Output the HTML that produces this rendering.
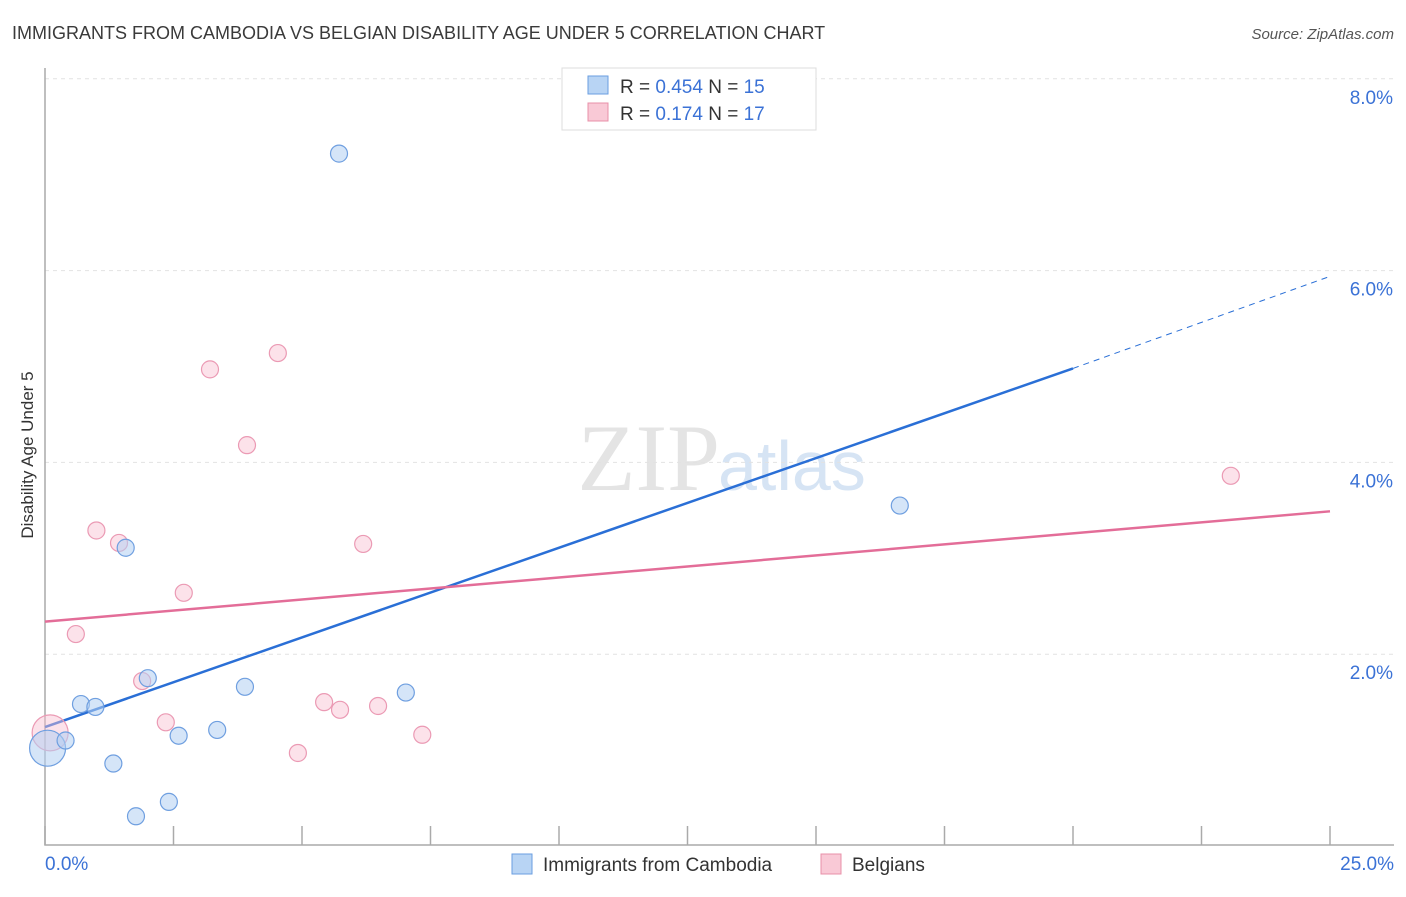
<!DOCTYPE html>
<html><head><meta charset="utf-8"><style>
body{margin:0;background:#fff;font-family:"Liberation Sans",sans-serif}
</style></head><body>
<svg width="1406" height="892" xmlns="http://www.w3.org/2000/svg">
<text x="12" y="39" font-size="18" fill="#3a3a3a">IMMIGRANTS FROM CAMBODIA VS BELGIAN DISABILITY AGE UNDER 5 CORRELATION CHART</text>
<text x="1394" y="39" font-size="15" fill="#555" font-style="italic" text-anchor="end">Source: ZipAtlas.com</text>
<text transform="translate(33,455) rotate(-90)" font-size="17" fill="#333" text-anchor="middle">Disability Age Under 5</text>
<text x="720" y="490" font-size="95" fill="#e4e4e4" text-anchor="end" font-family="Liberation Serif,serif">ZIP</text>
<text x="718" y="490" font-size="70" fill="#d6e4f4">atlas</text>
<g id="grid"></g><g id="axes"></g><g id="trends"></g><g id="pts"></g>
<g>
<rect x="562" y="68" width="254" height="62" fill="#fff" stroke="#ddd"/>
<rect x="588" y="76" width="20" height="18" fill="#b8d4f4" stroke="#6a9ee0"/>
<text x="620" y="93" font-size="19" fill="#333">R = <tspan fill="#3b72d6">0.454</tspan>   N = <tspan fill="#3b72d6">15</tspan></text>
<rect x="588" y="103" width="20" height="18" fill="#f9c9d6" stroke="#e890a8"/>
<text x="620" y="120" font-size="19" fill="#333">R =  <tspan fill="#3b72d6">0.174</tspan>   N = <tspan fill="#3b72d6">17</tspan></text>
</g>
<g>
<rect x="512" y="854" width="20" height="20" fill="#b8d4f4" stroke="#6a9ee0"/>
<text x="543" y="871" font-size="19" fill="#333">Immigrants from Cambodia</text>
<rect x="821" y="854" width="20" height="20" fill="#f9c9d6" stroke="#e890a8"/>
<text x="852" y="871" font-size="19" fill="#333">Belgians</text>
</g>
</svg>
<script>
const cambodiaX=[0.05,0.4,0.7,0.98,1.33,1.57,1.77,2.0,2.41,2.6,3.35,3.89,5.72,7.02,16.63];
const cambodiaY=[1.02,1.1,1.48,1.45,0.86,3.11,0.31,1.75,0.46,1.15,1.21,1.66,7.22,1.6,3.55];
const cambodiaR=[18,8.5,8.5,8.5,8.5,8.5,8.5,8.5,8.5,8.5,8.5,8.5,8.5,8.5,8.5];
const belgX=[0.1,0.6,1.0,1.44,1.89,2.35,2.7,3.21,3.93,4.53,4.92,5.43,5.74,6.19,6.48,7.34,23.07];
const belgY=[1.18,2.21,3.29,3.16,1.72,1.29,2.64,4.97,4.18,5.14,0.97,1.5,1.42,3.15,1.46,1.16,3.86];
const belgR=[18,8.5,8.5,8.5,8.5,8.5,8.5,8.5,8.5,8.5,8.5,8.5,8.5,8.5,8.5,8.5,8.5];
const yTicks=[2,4,6,8];
const xTicks=[0,2.5,5,7.5,10,12.5,15,17.5,20,22.5,25];
const blueTrend=[[0,1.24],[20,4.98],[25,5.94]];
const pinkTrend=[[0,2.34],[25,3.49]];
const X=v=>45+v*51.4, Y=v=>846-v*95.9;
const NS="http://www.w3.org/2000/svg";
function mk(p,t,a){const e=document.createElementNS(NS,t);for(const k in a)e.setAttribute(k,a[k]);document.getElementById(p).appendChild(e);return e;}
yTicks.forEach(t=>{
 const l=mk('grid','line',{x1:45,x2:1394,y1:Y(t),y2:Y(t),stroke:'#e2e2e2','stroke-dasharray':'4,4'});
 
 
 const tx=mk('grid','text',{x:1393,y:Y(t)+25,'font-size':19,fill:'#3b72d6','text-anchor':'end'});
 tx.textContent=t.toFixed(1)+'%';
 
 
});
const ax=mk('axes','path',{d:'M45,68V845H1394',fill:'none',stroke:'#aaa','stroke-width':1.5});


xTicks.forEach(t=>{
 const l=mk('axes','line',{x1:X(t),x2:X(t),y1:826,y2:845,stroke:'#aaa','stroke-width':1.5});
 
 
});
[['0.0%',45,'start'],['25.0%',1394,'end']].forEach(a=>{
 const tx=mk('axes','text',{x:a[1],y:870,'font-size':19,fill:'#3b72d6','text-anchor':a[2]});
 tx.textContent=a[0];
 
 
});
let b1=mk('trends','line',{x1:X(blueTrend[0][0]),y1:Y(blueTrend[0][1]),x2:X(blueTrend[1][0]),y2:Y(blueTrend[1][1]),stroke:'#2a6fd6','stroke-width':2.5});


let b2=mk('trends','line',{x1:X(blueTrend[1][0]),y1:Y(blueTrend[1][1]),x2:X(blueTrend[2][0]),y2:Y(blueTrend[2][1]),stroke:'#2a6fd6','stroke-width':1,'stroke-dasharray':'6,5'});


let p1=mk('trends','line',{x1:X(pinkTrend[0][0]),y1:Y(pinkTrend[0][1]),x2:X(pinkTrend[1][0]),y2:Y(pinkTrend[1][1]),stroke:'#e36d98','stroke-width':2.5});


belgX.forEach((v,i)=>{
 const c=mk('pts','circle',{cx:X(v),cy:Y(belgY[i]),r:belgR[i],fill:'rgba(249,190,208,0.45)',stroke:'#eb9ab4','stroke-width':1.2});
 
 
});
cambodiaX.forEach((v,i)=>{
 const c=mk('pts','circle',{cx:X(v),cy:Y(cambodiaY[i]),r:cambodiaR[i],fill:'rgba(178,208,242,0.55)',stroke:'#6f9fe0','stroke-width':1.2});
 
 
});
</script>
</body></html>
